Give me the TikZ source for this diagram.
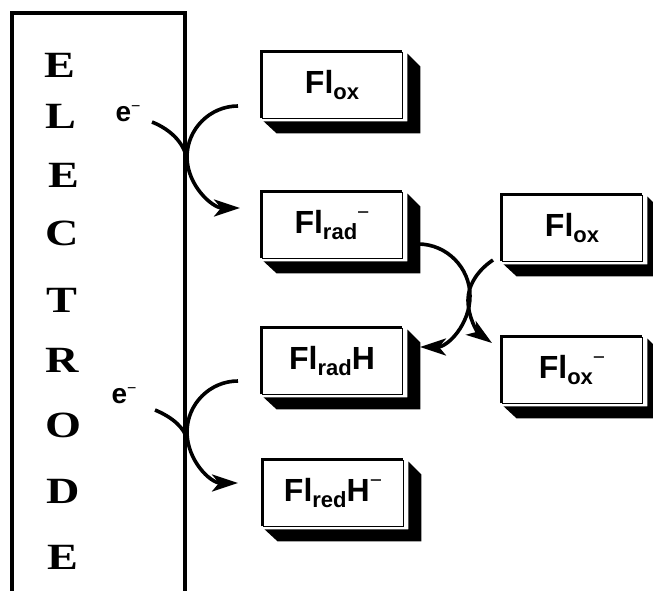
\documentclass[tikz,border=0pt]{standalone}
\usepackage{fontspec}
\setmainfont{Liberation Sans}
\newfontfamily\electrodefont{Liberation Serif}
\usepackage{graphicx}
\usetikzlibrary{arrows.meta,calc}
\newcommand{\sub}[1]{\raisebox{-6pt}{\fontsize{22}{22}\selectfont #1}}
\newcommand{\chg}{\raisebox{14pt}{\fontsize{21}{21}\selectfont\mdseries −}}

\begin{document}
\begin{tikzpicture}[x=1pt, y=-1pt,
    flbox/.style={draw, rectangle, line width=0.8pt, fill=white, minimum width=140pt, minimum height=66pt, inner sep=0pt, font=\fontsize{32}{38}\selectfont\bfseries},
    letter/.style={inner sep=0pt, font=\fontsize{37}{37}\selectfont\electrodefont\bfseries},
    elec/.style={inner sep=0pt, font=\fontsize{28}{28}\selectfont\bfseries},
    transfer/.style={line width=3.6pt, -{Stealth[length=26pt, width=17pt, inset=7pt]}},
    tail/.style={line width=3.6pt}]
    \useasboundingbox (0,0) rectangle (653,591);
    % Electrode
    \draw[line width=3.5pt] (12,591) -- (12,13) -- (185,13) -- (185,591);
    \foreach \l/\x/\y [count=\i] in {E/60/65, L/61/116, E/64/175, C/62/233, T/62/300, R/62/360, O/63/425, D/63/491, E/63/557}
      \node[letter] (el\i) at (\x,\y) {\scalebox{1.25}[1]{\l}};
    % Flavin boxes
    \node[flbox] (oxA) at (332,85) {Fl\sub{ox}};
    \node[flbox] (radm) at (332,225) {Fl\sub{rad}\chg};
    \node[flbox] (oxB) at (572,228) {Fl\sub{ox}};
    \node[flbox] (radH) at (332,361) {Fl\sub{rad}H};
    \node[flbox] (oxm) at (572,370) {Fl\sub{ox}\chg};
    \node[flbox] (redH) at (333,493) {Fl\sub{red}H\chg};
    % Box shadows
    \foreach \b in {oxA,radm,oxB,radH,oxm,redH} {
      \fill ($(\b.north east)+(5,2)$) -- ($(\b.north east)+(18,15)$) -- ($(\b.south east)+(18,15)$) -- ($(\b.south west)+(15,15)$) -- ($(\b.south west)+(2,3)$) -- ($(\b.south east)+(5,3)$) -- cycle;
      \draw[line width=3.5pt] (\b.south west) |- (\b.north east);
    }
    % Electrons
    \node[elec] (e1) at (128,114) {e\raisebox{10pt}{\fontsize{16}{16}\selectfont\mdseries −}};
    \node[elec] (e2) at (124,396) {e\raisebox{10pt}{\fontsize{16}{16}\selectfont\mdseries −}};
    % Arc end points
    \coordinate (s1) at (238,106);
    \coordinate (t1) at (240,208);
    \coordinate (u1) at (152,122);
    \coordinate (v1) at (187,162);
    \coordinate (s2) at (238,381);
    \coordinate (t2) at (238,483);
    \coordinate (u2) at (155,410);
    \coordinate (v2) at (187,440);
    \coordinate (s3) at (418,244);
    \coordinate (t3) at (420,347);
    \coordinate (s4) at (493,260);
    \coordinate (t4) at (492,343);
    % Electron transfer arrows
    \draw[transfer] (s1) .. controls (210,106) and (187,129) .. (187,157) .. controls (187,185) and (212,208) .. (t1);
    \draw[tail] (u1) .. controls (172,130) and (186,145) .. (v1);
    \draw[transfer] (s2) .. controls (210,381) and (187,404) .. (187,432) .. controls (187,460) and (210,483) .. (t2);
    \draw[tail] (u2) .. controls (172,417) and (185,428) .. (v2);
    \draw[transfer] (s3) .. controls (447,244) and (470,268) .. (470,296) .. controls (470,324) and (448,347) .. (t3);
    \draw[transfer] (s4) .. controls (478,270) and (468,285) .. (468,300) .. controls (468,318) and (478,333) .. (t4);
\end{tikzpicture}
\end{document}
